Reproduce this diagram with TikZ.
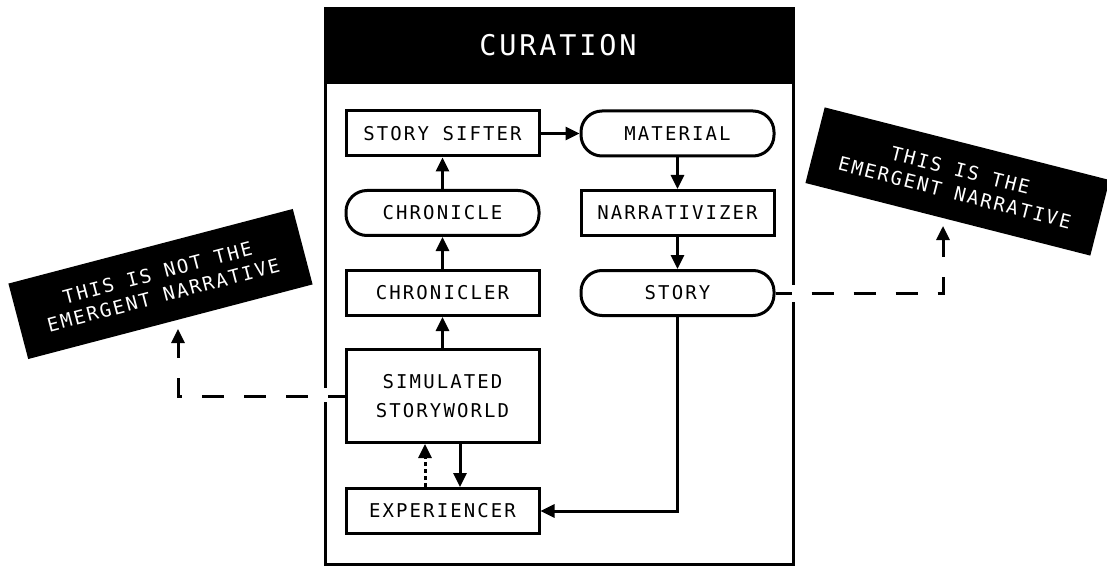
\documentclass[tikz,border=0pt]{standalone}
\usepackage{fontspec}
\newfontfamily\boxfont[LetterSpace=11]{DejaVu Sans Mono}
\newfontfamily\headfont[LetterSpace=10]{DejaVu Sans Mono}
\usetikzlibrary{arrows.meta}
\tikzset{
  blk/.style={draw, line width=3pt, minimum width=193pt, minimum height=45pt, inner sep=0pt,
    font=\boxfont\fontsize{19}{29}\selectfont, align=center},
  rblk/.style={blk, rounded corners=21pt},
  arr/.style={line width=3pt, -{Triangle[length=14pt,width=13pt]}},
  dotarr/.style={arr, dash pattern=on 4pt off 3pt},
  dasharr/.style={arr, dash pattern=on 22pt off 20pt},
  tag/.style={fill=black, text=white, minimum width=294pt, minimum height=78pt, inner sep=0pt,
    align=center, font=\boxfont\fontsize{19}{23}\selectfont}
}
\begin{document}
\begin{tikzpicture}[x=1pt,y=-1pt]
\useasboundingbox (0,0) rectangle (1107,569);
\fill[white] (0,0) rectangle (1107,569);
% frame
\fill[black] (324,7) rectangle (795,84);
\draw[line width=3pt] (325.5,8.5) rectangle (793.5,564.5);
\node[text=white, font=\headfont\fontsize{28.5}{30}\selectfont] (title) at (558,45) {CURATION};
% gaps in frame
\fill[white] (321,388) rectangle (330,402);
\fill[white] (789,285) rectangle (798,302);
% nodes
\node[blk]  (sifter)       at (442.5,133.5) {STORY SIFTER};
\node[rblk] (material)     at (677.5,133.5) {MATERIAL};
\node[rblk] (chronicle)    at (442.5,213)   {CHRONICLE};
\node[blk]  (narrativizer) at (677.5,213)   {NARRATIVIZER};
\node[blk]  (chronicler)   at (442.5,293)   {CHRONICLER};
\node[rblk] (story)        at (677.5,293)   {STORY};
\node[blk, minimum height=93pt] (sim) at (442.5,396) {SIMULATED\\STORYWORLD};
\node[blk]  (exp)          at (442.5,511)   {EXPERIENCER};
% labels
\node[tag, rotate=14.7] (notemergent) at (160.5,284) {THIS IS NOT THE\\EMERGENT NARRATIVE};
\node[tag, rotate=-14.3] (emergent) at (957.5,181.5) {THIS IS THE\\EMERGENT NARRATIVE};
\coordinate (ltip) at (178,329);
\coordinate (rtip) at (943,226);
% connectors
\draw[arr] (sifter) -- (material);
\draw[arr] (material) -- (narrativizer);
\draw[arr] (narrativizer) -- (story);
\draw[arr] (chronicle) -- (sifter);
\draw[arr] (chronicler) -- (chronicle);
\draw[arr] (sim) -- (chronicler);
\draw[arr] ([xshift=17.5pt]sim.south) -- ([xshift=17.5pt]exp.north);
\draw[dotarr] ([xshift=-17.5pt]exp.north) -- ([xshift=-17.5pt]sim.south);
\draw[arr] (story.south) |- (exp.east);
\draw[dasharr, dash phase=5pt] (sim.west) -| (ltip);
\draw[dasharr, dash phase=6pt] (story.east) -| (rtip);
\end{tikzpicture}
\end{document}
